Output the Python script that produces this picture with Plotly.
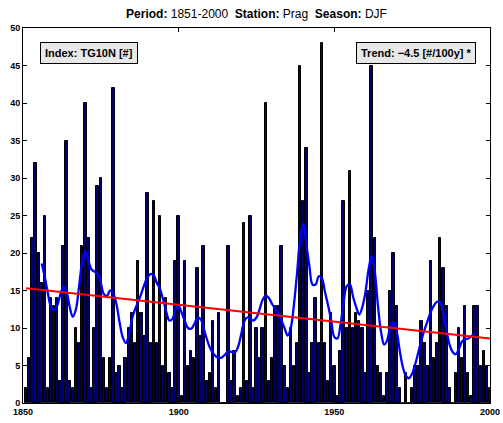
import plotly.graph_objects as go

years = list(range(1851, 2001))
counts = [
    2, 6, 22, 32, 20, 16, 25, 2, 14, 13,
    14, 3, 21, 35, 3, 2, 10, 8, 21, 40,
    22, 2, 10, 29, 30, 6, 2, 6, 42, 4,
    5, 2, 6, 10, 12, 8, 19, 12, 9, 28,
    8, 27, 8, 25, 5, 14, 4, 2, 19, 25,
    1, 19, 5, 7, 6, 18, 9, 21, 3, 4,
    11, 2, 12, 0, 0, 21, 3, 7, 1, 2,
    24, 3, 25, 2, 10, 6, 10, 40, 3, 6,
    13, 13, 21, 5, 2, 10, 5, 8, 45, 27,
    34, 4, 8, 14, 8, 48, 8, 3, 12, 5,
    1, 7, 27, 10, 31, 10, 12, 11, 10, 4,
    15, 45, 22, 5, 4, 1, 4, 15, 20, 13,
    2, 0, 4, 0, 2, 5, 5, 11, 8, 5,
    19, 6, 8, 22, 18, 13, 2, 0, 4, 10,
    6, 13, 4, 1, 13, 13, 5, 7, 5, 2,
]

smooth_years = list(range(1856, 1996))
smooth_vals = [
    18.6, 16.8, 14.6, 12.8, 12.4, 13.0, 14.5, 15.5, 14.8, 12.8,
    11.5, 12.5, 15.5, 18.8, 20.2, 19.0, 17.8, 17.5, 17.2, 16.0,
    14.5, 14.3, 15.0, 14.6, 13.2, 10.8, 8.8, 8.0, 9.0, 11.2,
    12.5, 13.5, 14.6, 15.8, 16.8, 17.2, 17.0, 16.0, 15.2, 13.8,
    12.2, 11.0, 11.2, 12.5, 12.9, 12.0, 10.9, 10.0, 9.9, 10.5,
    11.3, 11.2, 10.0, 8.6, 7.4, 6.7, 6.2, 6.0, 6.1, 6.5,
    6.9, 6.8, 6.7, 7.4, 9.0, 10.8, 11.4, 11.2, 11.0, 11.4,
    12.5, 13.8, 14.3, 14.0, 13.2, 12.6, 11.8, 11.0, 10.0, 9.0,
    10.0, 13.0, 17.2, 21.8, 23.9, 21.2, 18.2, 15.8, 15.8, 16.9,
    16.6, 14.8, 13.0, 11.0, 8.8, 8.6, 10.5, 13.5, 15.6, 15.8,
    14.2, 12.8, 11.8, 12.8, 14.8, 17.8, 19.6, 17.5, 13.0, 9.5,
    7.8, 8.4, 10.2, 10.7, 9.6, 7.0, 4.8, 3.6, 3.3, 3.9,
    5.2, 6.8, 8.4, 9.8, 11.0, 12.2, 13.0, 13.5, 13.4, 12.0,
    9.8, 7.8, 6.8, 6.5, 7.2, 8.2, 8.5, 8.6, 8.9, 9.3,
]

trend_years = [1851, 2000]
trend_vals = [15.3, 8.6]

x_ticks = [1850, 1900, 1950, 2000]
y_ticks = list(range(0, 51, 5))

FONT = "Liberation Sans, Arial, Helvetica, sans-serif"
W, H = 503, 423

fig = go.Figure()
fig.add_trace(go.Bar(
    x=years, y=counts, width=0.8,
    marker=dict(color="#00006e", line=dict(color="black", width=1)),
    showlegend=False,
))
fig.add_trace(go.Scatter(
    x=smooth_years, y=smooth_vals, mode="lines",
    line=dict(color="#0000ff", width=2.3, shape="spline", smoothing=1.0),
    showlegend=False,
))
fig.add_trace(go.Scatter(
    x=trend_years, y=trend_vals, mode="lines",
    line=dict(color="#ff0000", width=2),
    showlegend=False,
))

axis_common = dict(
    ticks="inside", ticklen=4, tickcolor="black", tickwidth=1,
    showline=True, linecolor="black", linewidth=1, mirror="allticks",
    showgrid=False, zeroline=False, automargin=False,
    tickfont=dict(family=FONT, size=9, color="black", weight="bold"),
)
fig.update_xaxes(range=[1850, 2000], tickvals=x_ticks, **axis_common)
fig.update_yaxes(range=[0, 50], tickvals=y_ticks, **axis_common)

fig.update_layout(
    width=W, height=H,
    margin=dict(l=23, r=13, t=28, b=20),
    plot_bgcolor="white", paper_bgcolor="white",
    bargap=0,
    title=dict(
        text="<b>Period:</b> 1851-2000  <b>Station:</b> Prag  <b>Season:</b> DJF",
        x=0.5, xref="paper", xanchor="center",
        y=1 - 14 / H, yref="container", yanchor="middle",
        font=dict(family=FONT, size=12, color="black"),
    ),
    annotations=[
        dict(text="<b>Index: TG10N [#]</b>", xref="paper", yref="paper",
             x=(40 - 23) / 467, y=(403 - 42) / 375, xanchor="left", yanchor="top",
             showarrow=False, bgcolor="#e8e8e8", bordercolor="black", borderwidth=1,
             borderpad=4, font=dict(family=FONT, size=11, color="black")),
        dict(text="<b>Trend: \u22124.5 [#/100y] *</b>", xref="paper", yref="paper",
             x=(476 - 23) / 467, y=(403 - 42) / 375, xanchor="right", yanchor="top",
             showarrow=False, bgcolor="#e8e8e8", bordercolor="black", borderwidth=1,
             borderpad=4, font=dict(family=FONT, size=11, color="black")),
    ],
)

fig.write_html(
    "out.html",
    config={"displayModeBar": False},
    post_script="document.body.style.margin='0px';"
                "document.documentElement.style.overflow='hidden';",
)
